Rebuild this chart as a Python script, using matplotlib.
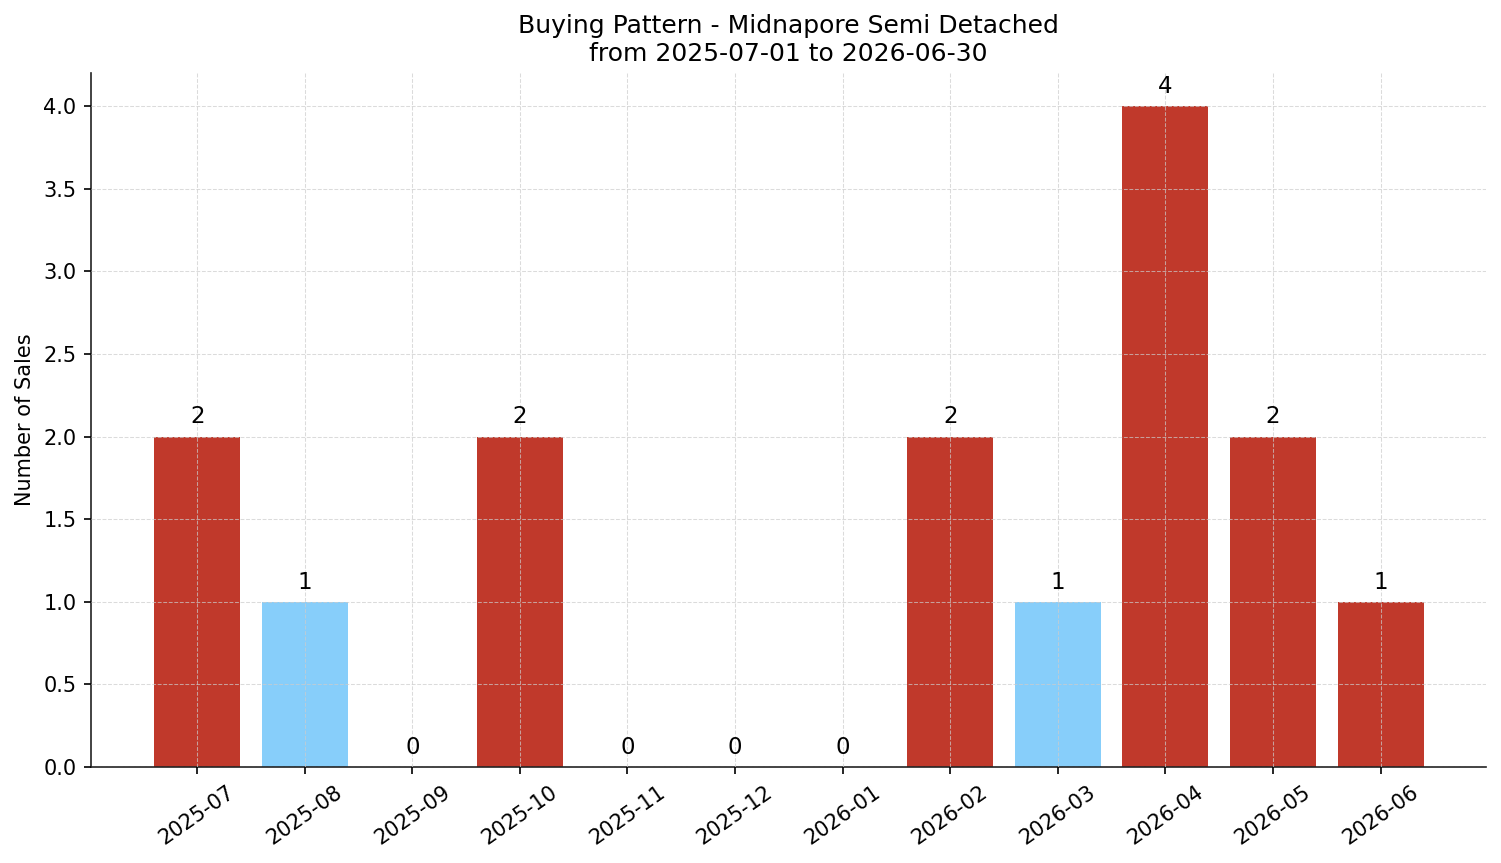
import numpy as np
import matplotlib.pyplot as plt

months = ["2025-07", "2025-08", "2025-09", "2025-10", "2025-11", "2025-12",
          "2026-01", "2026-02", "2026-03", "2026-04", "2026-05", "2026-06"]
sales = [2, 1, 0, 2, 0, 0, 0, 2, 1, 4, 2, 1]
bar_colors = ["#c0392b", "#87cefa", "#c0392b", "#c0392b", "#c0392b", "#c0392b",
              "#c0392b", "#c0392b", "#87cefa", "#c0392b", "#c0392b", "#c0392b"]

fig, ax = plt.subplots(figsize=(1501 / 150, 863 / 150), dpi=150)
fig.subplots_adjust(left=0.0606, right=0.990, top=0.9154, bottom=0.1112)

x = np.arange(len(months))
ax.bar(x, sales, color=bar_colors, width=0.8, zorder=1)

for xi, s in zip(x, sales):
    ax.text(xi, s + 0.05, str(s), ha="center", va="bottom", fontsize=11)

ax.set_xticks(x)
ax.set_xticklabels(months, rotation=35)
ax.set_ylim(0, 4.2)
ax.set_xlim(-0.987, 11.98)
ax.set_ylabel("Number of Sales")
ax.set_title("Buying Pattern - Midnapore Semi Detached\nfrom 2025-07-01 to 2026-06-30", fontsize=12)
ax.grid(True, linestyle="--", linewidth=0.5, color="#cccccc", alpha=0.7, zorder=3)
ax.set_axisbelow(False)
ax.spines["top"].set_visible(False)
ax.spines["right"].set_visible(False)
for side in ["left", "bottom"]:
    ax.spines[side].set_color("#222222")

fig.savefig("out.png", dpi=150)
